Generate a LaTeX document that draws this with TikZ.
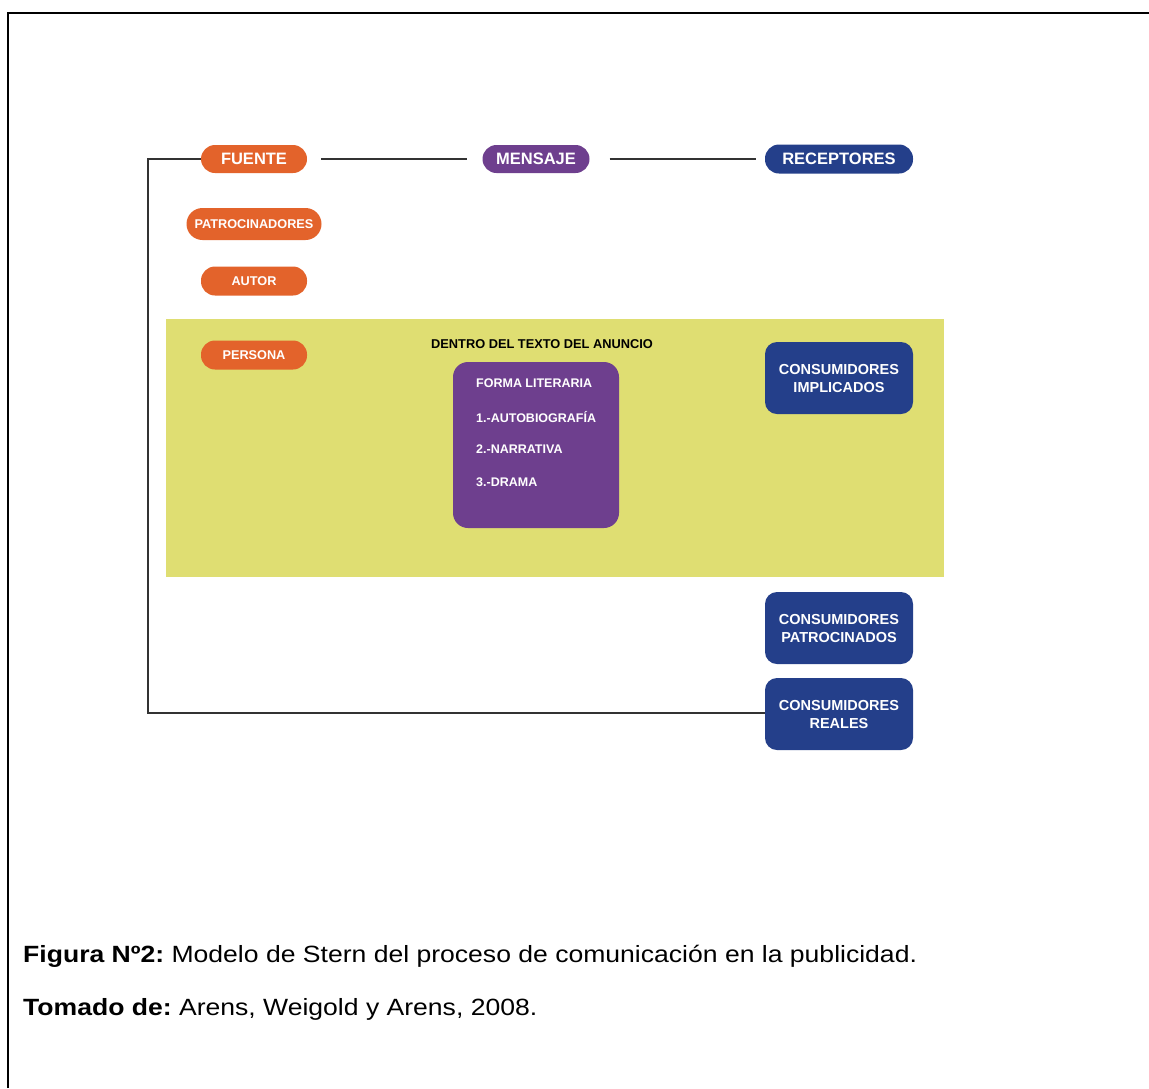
\documentclass[tikz,border=0pt]{standalone}
\usepackage{fontspec}
\setmainfont{Liberation Sans}
\newfontfamily\captionfont[FakeStretch=1.13]{Liberation Sans}
\frenchspacing
\definecolor{fuenteOr}{HTML}{E3632B}
\definecolor{mensajePu}{HTML}{6E3F8E}
\definecolor{receptBl}{HTML}{243F8A}
\definecolor{textoYe}{HTML}{DFDE72}
\definecolor{lineGr}{HTML}{333333}
\begin{document}
\begin{tikzpicture}[x=1pt,y=-1pt,
  pill/.style={rounded corners=14pt, text=white, font=\bfseries\fontsize{12.7}{14}\selectfont,
    minimum width=106pt, minimum height=29pt, inner sep=0pt},
  orangepill/.style={pill, fill=fuenteOr},
  bigpill/.style={font=\bfseries\fontsize{16.5}{18}\selectfont},
  bluebox/.style={rounded corners=12pt, fill=receptBl, text=white, align=center,
    font=\bfseries\fontsize{14.5}{18}\selectfont, minimum width=148pt, minimum height=72pt, inner sep=0pt},
  listitem/.style={anchor=west, text=white, inner sep=0pt, font=\bfseries\fontsize{12.5}{14}\selectfont},
  link/.style={draw=lineGr, line width=1.4pt},
  caption/.style={anchor=base west, inner sep=0pt, font=\captionfont\fontsize{23.5}{28}\selectfont}]
\useasboundingbox (0,0) rectangle (1149,1088);
% page frame
\draw[line width=2pt] (8,1088) -- (8,13) -- (1149,13);

% "inside the ad text" band
\fill[textoYe] (166,319) rectangle (944,577);

% top row
\node[orangepill, bigpill, minimum width=106pt, minimum height=28pt] (fuente) at (254,159) {FUENTE};
\node[pill, bigpill, fill=mensajePu, minimum width=107pt, minimum height=28pt] (mensaje) at (536,159) {MENSAJE};
\node[pill, bigpill, fill=receptBl, minimum width=148pt, minimum height=29pt] (receptores) at (839,159) {RECEPTORES};

% source column
\node[orangepill, minimum width=135pt, minimum height=32pt, rounded corners=16pt] (patroc) at (254,224) {PATROCINADORES};
\node[orangepill] (autor) at (254,281) {AUTOR};
\node[orangepill] (persona) at (254,355) {PERSONA};

% message block
\node[font=\bfseries\fontsize{12.8}{14}\selectfont, inner sep=0pt] (dentro) at (542,344) {DENTRO DEL TEXTO DEL ANUNCIO};
\node[fill=mensajePu, rounded corners=15pt, minimum width=166pt, minimum height=166pt, inner sep=0pt] (forma) at (536,445) {};
\node[listitem] (f0) at (476,383) {FORMA LITERARIA};
\node[listitem] (f1) at (476,417) {1.-AUTOBIOGRAFÍA};
\node[listitem] (f2) at (476,449) {2.-NARRATIVA};
\node[listitem] (f3) at (476,482) {3.-DRAMA};

% receivers column
\node[bluebox] (implic) at (839,378) {CONSUMIDORES\\IMPLICADOS};
\node[bluebox] (patcons) at (839,628) {CONSUMIDORES\\PATROCINADOS};
\node[bluebox] (reales) at (839,714) {CONSUMIDORES\\REALES};

% connectors
\draw[link, shorten <=14pt, shorten >=15pt] (fuente) -- (mensaje);
\draw[link, shorten <=20pt, shorten >=9pt] (mensaje) -- (receptores);
\coordinate (cTop) at (148,159);
\coordinate (cBot) at (148,713);
\draw[link] (fuente.west) -- (cTop) -- (cBot) -- (reales.west |- cBot);

% caption
\node[caption] (fig) at (23,962) {\textbf{Figura Nº2:} Modelo de Stern del proceso de comunicación en la publicidad.};
\node[caption] (tom) at (23,1015) {\textbf{Tomado de:} Arens, Weigold y Arens, 2008.};
\end{tikzpicture}
\end{document}
